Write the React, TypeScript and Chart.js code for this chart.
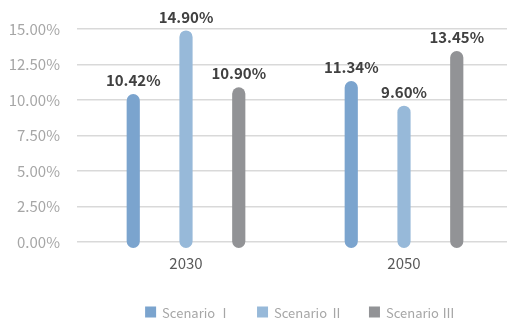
import React, { useEffect, useRef } from "react";
import { Chart, registerables } from "chart.js";

Chart.register(...registerables);

const categories = ["2030", "2050"];
const seriesNames = ["Scenario Ⅰ", "Scenario Ⅱ", "Scenario Ⅲ"];
const scenario1 = [10.42, 11.34];
const scenario2 = [14.9, 9.6];
const scenario3 = [10.9, 13.45];
const colors = ["#7BA4CE", "#97B9D9", "#929396"];
const FONT = "'Noto Sans CJK SC'";

const labelPlugin = {
  id: "valueLabels",
  afterDatasetsDraw(chart: any) {
    const ctx = chart.ctx;
    ctx.save();
    ctx.font = `bold 15px ${FONT}`;
    ctx.fillStyle = "#404040";
    ctx.textAlign = "center";
    ctx.textBaseline = "bottom";
    chart.data.datasets.forEach((ds: any, i: number) => {
      const meta = chart.getDatasetMeta(i);
      meta.data.forEach((bar: any, j: number) => {
        const v = ds.data[j];
        ctx.fillText(v.toFixed(2) + "%", bar.x, bar.y - 6);
      });
    });
    ctx.restore();
  },
  afterDraw(chart: any) {
    const ctx = chart.ctx;
    const area = chart.chartArea;
    ctx.save();
    ctx.font = `13px ${FONT}`;
    ctx.textBaseline = "middle";
    ctx.textAlign = "left";
    const box = 11;
    const gap = 6;
    const spacing = 26;
    const items = chart.data.datasets.map((ds: any) => ({
      text: ds.label,
      color: ds.backgroundColor,
      w: box + gap + ctx.measureText(ds.label).width,
    }));
    const total = items.reduce((s: number, it: any) => s + it.w, 0) + spacing * (items.length - 1);
    let x = (area.left + area.right) / 2 - total / 2 + 5;
    const y = 312;
    items.forEach((it: any) => {
      ctx.fillStyle = it.color;
      ctx.fillRect(x, y - box / 2, box, box);
      ctx.fillStyle = "#A6A6A6";
      ctx.fillText(it.text, x + box + gap, y + 1);
      x += it.w + spacing;
    });
    ctx.restore();
  },
};

export default function App() {
  const ref = useRef<HTMLCanvasElement>(null);
  useEffect(() => {
    if (!ref.current) return;
    const data = [scenario1, scenario2, scenario3];
    const chart = new Chart(ref.current, {
      type: "bar",
      data: {
        labels: categories,
        datasets: data.map((d, i) => ({
          label: seriesNames[i],
          data: d,
          backgroundColor: colors[i],
          borderColor: colors[i],
          categoryPercentage: 0.726,
          barPercentage: 0.25,
          borderRadius: 7,
          borderSkipped: false,
          base: -0.42,
          clip: false as any,
        })),
      },
      options: {
        animation: false,
        responsive: false,
        maintainAspectRatio: false,
        layout: { padding: { top: 29, right: 0, left: 8, bottom: 39 } },
        scales: {
          x: {
            grid: { display: false, drawTicks: false },
            border: { display: false },
            ticks: { color: "#595959", font: { family: FONT, size: 15 }, padding: 12 },
          },
          y: {
            min: 0,
            max: 15,
            afterFit: (s: any) => {
              s.width = 69;
            },
            grid: { color: "#D9D9D9", lineWidth: 1.5, drawTicks: false },
            border: { display: false },
            ticks: {
              stepSize: 2.5,
              color: "#A6A6A6",
              font: { family: FONT, size: 15 },
              padding: 17,
              callback: (v: any) => Number(v).toFixed(2) + "%",
            },
          },
        },
        plugins: {
          tooltip: { enabled: false },
          legend: { display: false },
        },
      },
      plugins: [labelPlugin],
    });
    return () => chart.destroy();
  }, []);
  return (
    <div
      style={{
        position: "fixed",
        left: 0,
        top: 0,
        width: 507,
        height: 323,
        overflow: "hidden",
        background: "#fff",
      }}
    >
      <canvas ref={ref} width={513} height={323} style={{ display: "block" }} />
    </div>
  );
}
